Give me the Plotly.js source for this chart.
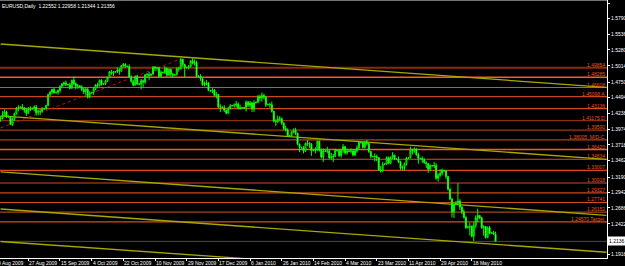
<!DOCTYPE html>
<html>
<head>
<meta charset="utf-8">
<script src="https://cdn.plot.ly/plotly-3.0.1.min.js"></script>
<style>html,body{margin:0;padding:0;background:#000;}#chart{width:625px;height:266px;}</style>
</head>
<body>
<div id="chart"></div>
<script>
// ---- DATA ----
const openP = [
1.4140,1.4150,1.4200,1.4262,1.4188,1.4180,1.4055,1.4148,1.4232,1.4318,
1.4330,1.4340,1.4320,1.4288,1.4240,1.4310,1.4305,1.4320,1.4340,1.4248,
1.4270,1.4265,1.4305,1.4315,1.4365,1.4545,1.4585,1.4630,1.4575,1.4580,
1.4612,1.4680,1.4718,1.4735,1.4710,1.4705,1.4650,1.4780,1.4722,1.4680,
1.4685,1.4670,1.4630,1.4590,1.4635,1.4505,1.4570,1.4580,1.4640,1.4700,
1.4690,1.4780,1.4712,1.4720,1.4770,1.4825,1.4920,1.4900,1.4912,1.4920,
1.4950,1.4932,1.5020,1.5040,1.5012,1.5005,1.4835,1.4762,1.4700,1.4840,
1.4720,1.4715,1.4772,1.4750,1.4870,1.4875,1.4860,1.4880,1.4995,1.4980,
1.4985,1.4845,1.4910,1.4905,1.4975,1.4865,1.4960,1.4880,1.4862,1.4870,
1.4970,1.4968,1.5125,1.5040,1.4990,1.4985,1.5005,1.5100,1.5060,1.5070,
1.4845,1.4850,1.4805,1.4705,1.4712,1.4735,1.4612,1.4605,1.4620,1.4532,
1.4545,1.4340,1.4340,1.4330,1.4282,1.4240,1.4320,1.4360,1.4365,1.4372,
1.4390,1.4330,1.4320,1.4325,1.4330,1.4420,1.4370,1.4410,1.4310,1.4410,
1.4420,1.4510,1.4490,1.4530,1.4500,1.4380,1.4385,1.4380,1.4270,1.4110,
1.4100,1.4140,1.4150,1.4080,1.3990,1.3960,1.3865,1.3870,1.3930,1.3960,
1.3910,1.3730,1.3680,1.3670,1.3625,1.3740,1.3745,1.3730,1.3625,1.3630,
1.3640,1.3780,1.3630,1.3520,1.3620,1.3615,1.3620,1.3510,1.3520,1.3530,
1.3630,1.3625,1.3545,1.3630,1.3690,1.3590,1.3620,1.3615,1.3620,1.3555,
1.3620,1.3670,1.3760,1.3755,1.3680,1.3770,1.3740,1.3610,1.3530,1.3525,
1.3530,1.3510,1.3310,1.3290,1.3400,1.3405,1.3510,1.3420,1.3510,1.3550,
1.3490,1.3485,1.3440,1.3340,1.3350,1.3410,1.3500,1.3505,1.3630,1.3620,
1.3650,1.3560,1.3500,1.3495,1.3470,1.3430,1.3410,1.3320,1.3380,1.3375,
1.3380,1.3170,1.3220,1.3250,1.3300,1.3290,1.3200,1.2990,1.2830,1.2620,
1.2740,1.2760,1.2800,1.2700,1.2620,1.2530,1.2360,1.2370,1.2380,1.2220,
1.2400,1.2520,1.2560,1.2520,1.2360,1.2380,1.2200,1.2360,1.2270,1.2280,1.22552];
const highP = [
1.4190,1.4275,1.4300,1.4280,1.4200,1.4190,1.4165,1.4250,1.4340,1.4370,
1.4350,1.4390,1.4345,1.4330,1.4340,1.4355,1.4330,1.4370,1.4375,1.4300,
1.4310,1.4340,1.4325,1.4380,1.4560,1.4605,1.4640,1.4655,1.4595,1.4630,
1.4695,1.4735,1.4760,1.4775,1.4720,1.4740,1.4790,1.4843,1.4745,1.4720,
1.4700,1.4700,1.4660,1.4665,1.4650,1.4600,1.4590,1.4670,1.4720,1.4740,
1.4790,1.4795,1.4735,1.4790,1.4840,1.4930,1.4950,1.4935,1.4930,1.4990,
1.4980,1.5030,1.5062,1.5060,1.5020,1.5040,1.4860,1.4790,1.4860,1.4870,
1.4735,1.4800,1.4790,1.4880,1.4900,1.4920,1.4890,1.5010,1.5015,1.5000,
1.5000,1.4940,1.4920,1.5010,1.4985,1.4975,1.4970,1.4900,1.4880,1.4990,
1.5000,1.5144,1.5135,1.5050,1.5005,1.5030,1.5110,1.5140,1.5120,1.5100,
1.4860,1.4880,1.4820,1.4760,1.4780,1.4750,1.4620,1.4650,1.4635,1.4585,
1.4560,1.4385,1.4350,1.4370,1.4300,1.4340,1.4390,1.4375,1.4400,1.4440,
1.4420,1.4380,1.4340,1.4345,1.4450,1.4440,1.4440,1.4420,1.4450,1.4430,
1.4540,1.4540,1.4580,1.4560,1.4520,1.4395,1.4410,1.4430,1.4280,1.4140,
1.4200,1.4190,1.4170,1.4090,1.4030,1.3990,1.3880,1.3950,1.3990,1.4000,
1.3920,1.3740,1.3690,1.3700,1.3760,1.3800,1.3770,1.3750,1.3640,1.3680,
1.3790,1.3790,1.3660,1.3660,1.3630,1.3690,1.3640,1.3590,1.3570,1.3660,
1.3640,1.3640,1.3650,1.3735,1.3700,1.3660,1.3630,1.3660,1.3640,1.3650,
1.3710,1.3770,1.3770,1.3770,1.3780,1.3800,1.3760,1.3620,1.3540,1.3580,
1.3560,1.3520,1.3370,1.3440,1.3420,1.3530,1.3530,1.3530,1.3600,1.3560,
1.3500,1.3530,1.3460,1.3380,1.3430,1.3520,1.3520,1.3690,1.3660,1.3680,
1.3670,1.3590,1.3510,1.3530,1.3500,1.3450,1.3420,1.3400,1.3390,1.3440,
1.3420,1.3250,1.3320,1.3330,1.3310,1.3310,1.3210,1.3010,1.2850,1.2770,
1.2800,1.3094,1.2830,1.2720,1.2660,1.2550,1.2390,1.2440,1.2400,1.2450,
1.2560,1.2673,1.2570,1.2540,1.2400,1.2390,1.2380,1.2390,1.2290,1.2310,1.22958];
const lowP = [
1.4100,1.4135,1.4190,1.4160,1.4165,1.4045,1.4030,1.4110,1.4215,1.4270,
1.4320,1.4290,1.4250,1.4195,1.4225,1.4275,1.4300,1.4270,1.4200,1.4205,
1.4210,1.4250,1.4295,1.4300,1.4355,1.4520,1.4555,1.4560,1.4565,1.4545,
1.4580,1.4655,1.4690,1.4680,1.4695,1.4630,1.4640,1.4700,1.4630,1.4640,
1.4660,1.4600,1.4555,1.4540,1.4480,1.4485,1.4560,1.4540,1.4620,1.4660,
1.4680,1.4690,1.4705,1.4700,1.4750,1.4815,1.4870,1.4850,1.4905,1.4900,
1.4870,1.4920,1.4990,1.4980,1.4995,1.4820,1.4740,1.4680,1.4690,1.4700,
1.4700,1.4630,1.4660,1.4720,1.4830,1.4780,1.4850,1.4870,1.4930,1.4940,
1.4830,1.4830,1.4895,1.4885,1.4840,1.4850,1.4830,1.4825,1.4850,1.4860,
1.4920,1.4960,1.5000,1.4830,1.4975,1.4960,1.4990,1.5040,1.5020,1.4830,
1.4835,1.4770,1.4690,1.4680,1.4700,1.4600,1.4595,1.4570,1.4510,1.4480,
1.4320,1.4260,1.4320,1.4260,1.4220,1.4230,1.4300,1.4350,1.4330,1.4330,
1.4300,1.4300,1.4310,1.4320,1.4270,1.4340,1.4330,1.4260,1.4260,1.4400,
1.4410,1.4440,1.4430,1.4470,1.4340,1.4370,1.4330,1.4250,1.4090,1.4030,
1.4080,1.4110,1.4050,1.3960,1.3940,1.3850,1.3855,1.3860,1.3910,1.3880,
1.3710,1.3600,1.3660,1.3580,1.3600,1.3700,1.3670,1.3540,1.3615,1.3580,
1.3620,1.3610,1.3500,1.3440,1.3605,1.3580,1.3490,1.3480,1.3440,1.3520,
1.3615,1.3520,1.3510,1.3590,1.3560,1.3560,1.3605,1.3580,1.3530,1.3540,
1.3590,1.3650,1.3745,1.3660,1.3660,1.3710,1.3590,1.3500,1.3515,1.3450,
1.3450,1.3290,1.3266,1.3280,1.3390,1.3390,1.3400,1.3400,1.3490,1.3470,
1.3475,1.3420,1.3310,1.3300,1.3290,1.3380,1.3490,1.3500,1.3560,1.3590,
1.3540,1.3410,1.3485,1.3420,1.3410,1.3340,1.3260,1.3290,1.3365,1.3340,
1.3150,1.3115,1.3190,1.3220,1.3280,1.3160,1.2970,1.2810,1.2530,1.2520,
1.2730,1.2740,1.2650,1.2580,1.2510,1.2340,1.2350,1.2235,1.2200,1.2143,
1.2360,1.2450,1.2500,1.2340,1.2230,1.2180,1.2190,1.2250,1.2260,1.2240,1.21344];
const closeP = [
1.4150,1.4200,1.4262,1.4188,1.4180,1.4055,1.4148,1.4232,1.4318,1.4330,
1.4340,1.4320,1.4288,1.4240,1.4310,1.4305,1.4320,1.4340,1.4248,1.4270,
1.4265,1.4305,1.4315,1.4365,1.4545,1.4585,1.4630,1.4575,1.4580,1.4612,
1.4680,1.4718,1.4735,1.4710,1.4705,1.4650,1.4780,1.4722,1.4680,1.4685,
1.4670,1.4630,1.4590,1.4635,1.4505,1.4570,1.4580,1.4640,1.4700,1.4690,
1.4780,1.4712,1.4720,1.4770,1.4825,1.4920,1.4900,1.4912,1.4920,1.4950,
1.4932,1.5020,1.5040,1.5012,1.5005,1.4835,1.4762,1.4700,1.4840,1.4720,
1.4715,1.4772,1.4750,1.4870,1.4875,1.4860,1.4880,1.4995,1.4980,1.4985,
1.4845,1.4910,1.4905,1.4975,1.4865,1.4960,1.4880,1.4862,1.4870,1.4970,
1.4968,1.5125,1.5040,1.4990,1.4985,1.5005,1.5100,1.5060,1.5070,1.4845,
1.4850,1.4805,1.4705,1.4712,1.4735,1.4612,1.4605,1.4620,1.4532,1.4545,
1.4340,1.4340,1.4330,1.4282,1.4240,1.4320,1.4360,1.4365,1.4372,1.4390,
1.4330,1.4320,1.4325,1.4330,1.4420,1.4370,1.4410,1.4310,1.4410,1.4420,
1.4510,1.4490,1.4530,1.4500,1.4380,1.4385,1.4380,1.4270,1.4110,1.4100,
1.4140,1.4150,1.4080,1.3990,1.3960,1.3865,1.3870,1.3930,1.3960,1.3910,
1.3730,1.3680,1.3670,1.3625,1.3740,1.3745,1.3730,1.3625,1.3630,1.3640,
1.3780,1.3630,1.3520,1.3620,1.3615,1.3620,1.3510,1.3520,1.3530,1.3630,
1.3625,1.3545,1.3630,1.3690,1.3590,1.3620,1.3615,1.3620,1.3555,1.3620,
1.3670,1.3760,1.3755,1.3680,1.3770,1.3740,1.3610,1.3530,1.3525,1.3530,
1.3510,1.3310,1.3290,1.3400,1.3405,1.3510,1.3420,1.3510,1.3550,1.3490,
1.3485,1.3440,1.3340,1.3350,1.3410,1.3500,1.3505,1.3630,1.3620,1.3650,
1.3560,1.3500,1.3495,1.3470,1.3430,1.3410,1.3320,1.3380,1.3375,1.3380,
1.3170,1.3220,1.3250,1.3300,1.3290,1.3200,1.2990,1.2830,1.2620,1.2740,
1.2760,1.2800,1.2700,1.2620,1.2530,1.2360,1.2370,1.2380,1.2220,1.2400,
1.2520,1.2560,1.2520,1.2360,1.2380,1.2200,1.2360,1.2270,1.2280,1.2255,1.21356];

const chartTitle = "EURUSD,Daily  1.22552 1.22958 1.21344 1.21356";
const dateLabels = ["9 Aug 2009","27 Aug 2009","15 Sep 2009","4 Oct 2009","22 Oct 2009","10 Nov 2009","29 Nov 2009","17 Dec 2009","6 Jan 2010","26 Jan 2010","14 Feb 2010","4 Mar 2010","23 Mar 2010","11 Apr 2010","29 Apr 2010","18 May 2010"];
const dateLabelBar = [-2,14,30,46,62,78,94,110,126,142,158,174,190,206,222,238];
const priceTicks = [1.6046,1.5790,1.5536,1.5280,1.5014,1.4750,1.4494,1.4238,1.3974,1.3718,1.3462,1.3190,1.2942,1.2686,1.2422,1.1918];

const levelValues = [1.49854,1.48285,1.46608,1.45098,1.43136,1.41175,1.39590,1.38005,1.36420,1.34834,1.33007,1.30918,1.29327,1.27741,1.26152,1.24570];
const levelLabels = ["1.49854","1.48285","1.46608","1.45098 A","1.43136","1.41175 D","1.39590","1.38005  MID-C","1.36420","1.34834","1.33007","1.30918","1.29327","1.27741","1.26152","1.24570 Target"];

// channel trend lines (bar index, price) at both ends
const trendBar0 = [0,0,0,0,0];
const trendPrice0 = [1.5375,1.4194,1.3275,1.2667,1.2134];
const trendBar1 = [306,306,306,306,306];
const trendPrice1 = [1.4664,1.3483,1.2564,1.1957,1.1437];
// red dotted trend line
const redBar = [0,91];
const redPrice = [1.3997,1.5129];

// ---- STYLES ----
const levelLineColors = ['#8b2a0a','#ff5a1e','#e0501a','#c8481a','#d04c1a','#8a3010','#6e2a10','#b0421a','#ff5a1e','#d8501c','#d84a1c','#6a2410','#c8481a','#d0501c','#a84418','#d84a1c'];
const levelLineWidths = [2,1.5,1.2,1.2,1.2,1.2,2,1.2,1.5,1.2,1.2,2,1.2,1.2,1.2,1.2];
const labelFont = {family:'Liberation Sans, Arial, sans-serif', size:5};
const xRange = [-0.29, 306.3];
const plotWidthPx = 607;

const barIdx = closeP.map((_, i) => i);

const candle = {
  type:'candlestick', x:barIdx, open:openP, high:highP, low:lowP, close:closeP,
  increasing:{line:{color:'#00ff00', width:1}, fillcolor:'#000000'},
  decreasing:{line:{color:'#00ff00', width:1}, fillcolor:'#ffffff'},
  whiskerwidth:0, hoverinfo:'skip', showlegend:false
};

const shapes = [];
shapes.push({type:'line', xref:'paper', yref:'paper', x0:0, x1:1, y0:1, y1:1, line:{color:'#9a9a9a', width:1.5}, layer:'above'});
shapes.push({type:'line', xref:'paper', yref:'y', x0:0, x1:1, y0:closeP[closeP.length-1], y1:closeP[closeP.length-1], line:{color:'#4a4a4a', width:1}, layer:'below'});
levelValues.forEach((v, k) => {
  shapes.push({type:'line', xref:'paper', yref:'y', x0:0, x1:1, y0:v, y1:v, line:{color:levelLineColors[k], width:levelLineWidths[k]}, layer:'below'});
});
trendPrice0.forEach((p, k) => {
  shapes.push({type:'line', xref:'x', yref:'y', x0:trendBar0[k], x1:trendBar1[k], y0:p, y1:trendPrice1[k], line:{color:'#a8a800', width:1.3}, layer:'below'});
});
shapes.push({type:'line', xref:'x', yref:'y', x0:redBar[0], x1:redBar[1], y0:redPrice[0], y1:redPrice[1], line:{color:'#c01010', width:1, dash:'dot'}, layer:'below'});

const annotations = [];
annotations.push({xref:'paper', yref:'paper', x:0, y:1, xanchor:'left', yanchor:'top', xshift:0, yshift:-1, text:chartTitle, showarrow:false, font:Object.assign({}, labelFont, {color:'#ffffff'})});
levelValues.forEach((v, k) => {
  annotations.push({xref:'paper', yref:'y', x:1, y:v, xanchor:'right', yanchor:'bottom', xshift:-1, yshift:-1, text:levelLabels[k], showarrow:false, borderpad:0, font:Object.assign({}, labelFont, {color:'#f0501e'})});
});
const pxPerBar = plotWidthPx / (xRange[1] - xRange[0]);
dateLabels.forEach((t, k) => {
  const bar = dateLabelBar[k];
  const xIn = Math.max(bar, xRange[0]);
  annotations.push({xref:'x', yref:'paper', x:xIn, y:0, xanchor:'left', yanchor:'top', xshift:(bar - xIn) * pxPerBar, yshift:-1, text:t, showarrow:false, borderpad:0, font:Object.assign({}, labelFont, {color:'#ffffff'})});
});
annotations.push({xref:'paper', yref:'y', x:1, y:closeP[closeP.length-1], xanchor:'left', yanchor:'middle', xshift:0, text:closeP[closeP.length-1].toFixed(4), showarrow:false, bgcolor:'#ffffff', borderpad:1, font:Object.assign({}, labelFont, {color:'#000000'})});

const layout = {
  width:625, height:266,
  paper_bgcolor:'#000000', plot_bgcolor:'#000000',
  margin:{l:0, r:18, t:0, b:8, pad:0},
  showlegend:false,
  xaxis:{range:xRange, showgrid:false, zeroline:false, showline:true, linecolor:'#ffffff', linewidth:1,
         ticks:'outside', ticklen:2, tickcolor:'#ffffff', tickvals:dateLabelBar, showticklabels:false,
         rangeslider:{visible:false}, fixedrange:true},
  yaxis:{side:'right', range:[1.1863, 1.6097], showgrid:false, zeroline:false, showline:true, linecolor:'#ffffff', linewidth:1,
         ticks:'outside', ticklen:2, tickcolor:'#ffffff', tickvals:priceTicks, ticktext:priceTicks.map(v => v.toFixed(4)),
         tickfont:Object.assign({}, labelFont, {color:'#ffffff'}), fixedrange:true},
  shapes:shapes, annotations:annotations
};

Plotly.newPlot('chart', [candle], layout, {displayModeBar:false, staticPlot:true});
</script>
</body>
</html>
